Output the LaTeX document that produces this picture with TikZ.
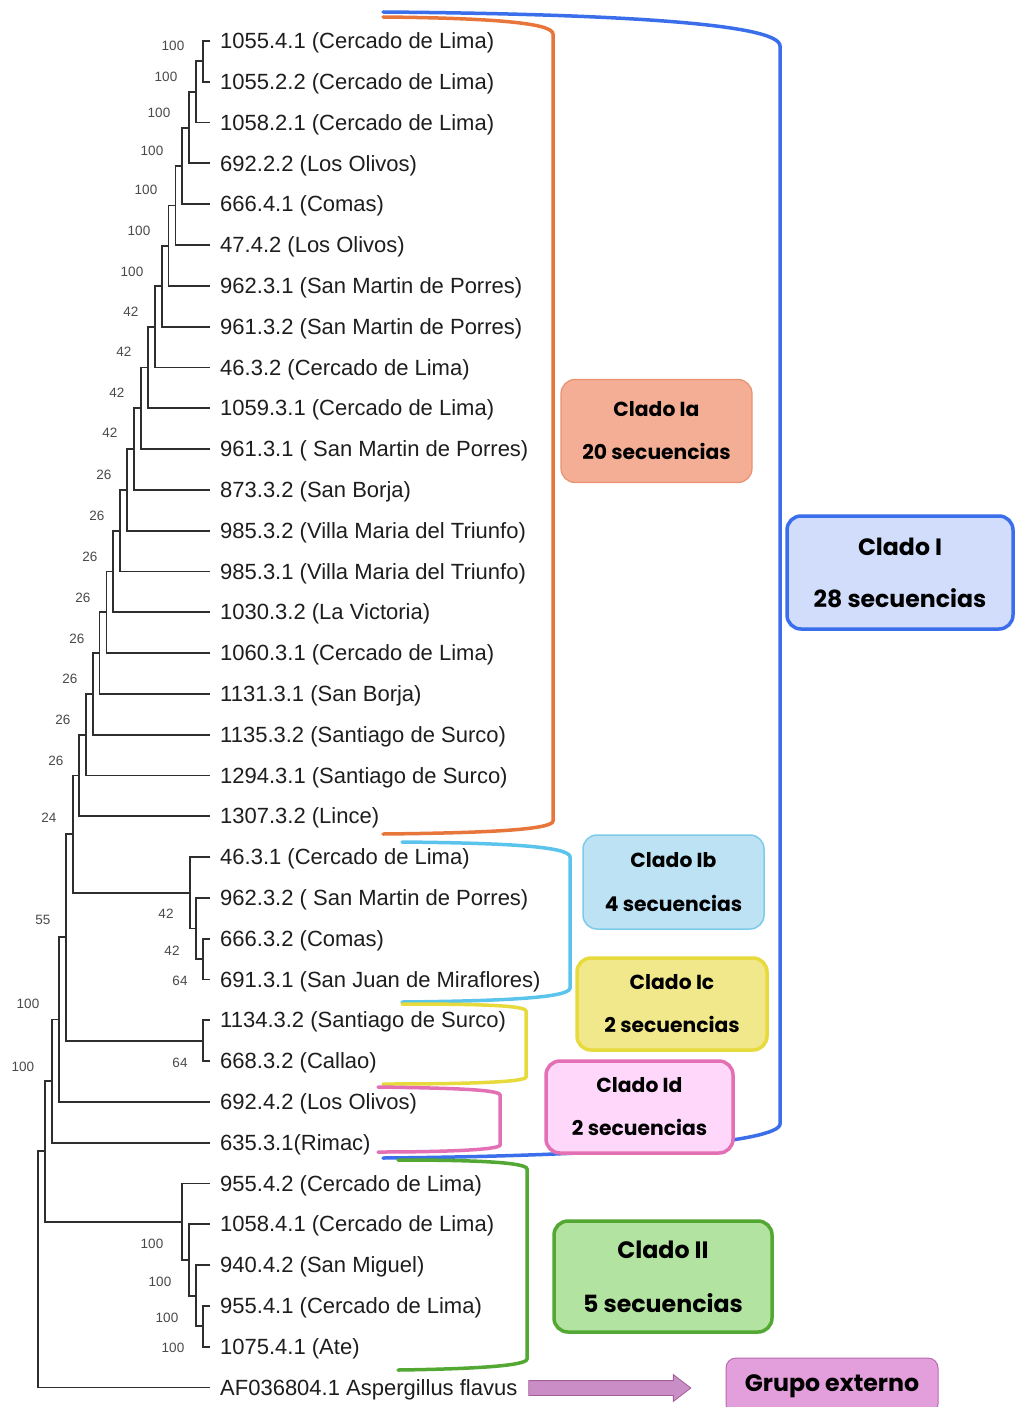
\documentclass[tikz,border=0pt]{standalone}
\usepackage{fontspec}
\setmainfont{Liberation Sans}
\newfontfamily\cladofont{Poppins}
\usetikzlibrary{calc,shapes.arrows}

\definecolor{treeInk}{HTML}{2E2E2E}
\definecolor{leafInk}{HTML}{1E1E1E}
\definecolor{bootInk}{HTML}{4A4A4A}
\definecolor{iaLine}{HTML}{E8763A}
\definecolor{iaBorder}{HTML}{E9926E}
\definecolor{iaFill}{HTML}{F3AE95}
\definecolor{cladoILine}{HTML}{3B6EEA}
\definecolor{cladoIFill}{HTML}{D2DDFB}
\definecolor{ibLine}{HTML}{5BC4EC}
\definecolor{ibBorder}{HTML}{7CCBEB}
\definecolor{ibFill}{HTML}{BDE2F4}
\definecolor{icLine}{HTML}{E6DA3C}
\definecolor{icFill}{HTML}{F0E88A}
\definecolor{idLine}{HTML}{E36FB4}
\definecolor{idFill}{HTML}{FED7FB}
\definecolor{iiLine}{HTML}{52A832}
\definecolor{iiFill}{HTML}{B3E3A1}
\definecolor{outFill}{HTML}{E39FDB}
\definecolor{outLine}{HTML}{B96AB3}
\definecolor{arrowFill}{HTML}{CB8DC5}
\definecolor{arrowLine}{HTML}{A0609A}

% one clade: name, x of the node, upper child, lower child
\newcommand{\clade}[4]{%
  \path ($(#3)!.5!(#4)$) coordinate (mid);
  \coordinate (#1) at (#2,0 |- mid);
  \draw[branch] (#3) -| (#1) |- (#4);
}

\begin{document}
\begin{tikzpicture}[
    x=1pt, y=-1pt,
    branch/.style={draw=treeInk, line width=1.8pt},
    leaf/.style={anchor=west, inner xsep=10pt, inner ysep=0pt, text height=15.5pt, text depth=0pt, text=leafInk, font=\fontsize{22}{26}\selectfont},
    boot/.style={text=bootInk, inner sep=0pt, font=\fontsize{13.5}{16}\selectfont},
    bracket/.style={line width=3.5pt, line cap=round},
    clado/.style={rounded corners=14pt, align=center, inner sep=0pt}
]
\useasboundingbox (0,0) rectangle (1015,1407);
\clip (0,0) rectangle (1015,1407);
\fill[white] (0,0) rectangle (1015,1407);

% Leaves
\foreach \name [count=\i] in {
    {1055.4.1 (Cercado de Lima)}, {1055.2.2 (Cercado de Lima)}, {1058.2.1 (Cercado de Lima)},
    {692.2.2 (Los Olivos)}, {666.4.1 (Comas)}, {47.4.2 (Los Olivos)},
    {962.3.1 (San Martin de Porres)}, {961.3.2 (San Martin de Porres)}, {46.3.2 (Cercado de Lima)},
    {1059.3.1 (Cercado de Lima)}, {961.3.1 ( San Martin de Porres)}, {873.3.2 (San Borja)},
    {985.3.2 (Villa Maria del Triunfo)}, {985.3.1 (Villa Maria del Triunfo)}, {1030.3.2 (La Victoria)},
    {1060.3.1 (Cercado de Lima)}, {1131.3.1 (San Borja)}, {1135.3.2 (Santiago de Surco)},
    {1294.3.1 (Santiago de Surco)}, {1307.3.2 (Lince)}, {46.3.1 (Cercado de Lima)},
    {962.3.2 ( San Martin de Porres)}, {666.3.2 (Comas)}, {691.3.1 (San Juan de Miraflores)},
    {1134.3.2 (Santiago de Surco)}, {668.3.2 (Callao)}, {692.4.2 (Los Olivos)},
    {635.3.1(Rimac)}, {955.4.2 (Cercado de Lima)}, {1058.4.1 (Cercado de Lima)},
    {940.4.2 (San Miguel)}, {955.4.1 (Cercado de Lima)}, {1075.4.1 (Ate)},
    {AF036804.1 Aspergillus flavus}}
  \node[leaf] (l\i) at (210, {41+(\i-1)*40.8}) {\name};

% Clado Ia (ladder)
\clade{n1}{203}{l1.west}{l2.west}
\foreach \i [remember=\i as \j (initially 1), evaluate=\i as \x using 203-6.9*(\i-1), evaluate=\i as \k using int(\i+1)] in {2,...,19}
  {\clade{n\i}{\x}{n\j}{l\k.west}}
% Clado Ib
\clade{b3}{203}{l23.west}{l24.west}
\clade{b2}{196}{l22.west}{b3}
\clade{b1}{190}{l21.west}{b2}
\clade{n20}{73}{n19}{b1}
% Clado Ic
\clade{c1}{203}{l25.west}{l26.west}
\clade{n21}{66}{n20}{c1}
% Clado Id
\clade{n22}{59}{n21}{l27.west}
\clade{n23}{52}{n22}{l28.west}
% Clado II and outgroup
\clade{d4}{203}{l32.west}{l33.west}
\clade{d3}{196}{l31.west}{d4}
\clade{d2}{189}{l30.west}{d3}
\clade{d1}{182}{l29.west}{d2}
\clade{n24}{45}{n23}{d1}
\clade{root}{38}{n24}{l34.west}

% Bootstrap values
\foreach \x/\y/\v [count=\i] in {
    173/46/100, 166/77/100, 159/113/100, 152/151/100, 146/190/100, 139/231/100, 132/272/100,
    131/312/42, 124/352/42, 117/393/42, 110/433/42,
    104/475/26, 97/516/26, 90/557/26, 83/598/26, 77/639/26, 70/679/26, 63/720/26, 56/761/26,
    49/818/24, 43/920/55, 166/914/42, 172/951/42, 180/981/64, 28/1004/100,
    180/1063/64, 23/1067/100, 152/1244/100, 160/1282/100, 167/1318/100, 173/1348/100}
  \node[boot] (bs\i) at (\x,\y) {\v};

% Brackets
\draw[bracket, cladoILine] (383,12) .. controls (620,14) and (780,24) .. (780,46) -- (780,1124)
    .. controls (780,1142) and (620,1156) .. (383,1158);
\draw[bracket, iaLine] (383,17) .. controls (480,18) and (553,22) .. (553,34) -- (553,821)
    .. controls (553,830) and (480,833) .. (383,834);
\draw[bracket, ibLine] (402,842) .. controls (500,843) and (570,846) .. (570,857) -- (570,988)
    .. controls (570,998) and (500,1001) .. (402,1002);
\draw[bracket, icLine] (402,1004) .. controls (470,1004) and (526,1005) .. (526,1011) -- (526,1077)
    .. controls (526,1082) and (470,1084) .. (383,1084);
\draw[bracket, idLine] (378,1087) .. controls (440,1088) and (500,1089) .. (500,1095) -- (500,1145)
    .. controls (500,1150) and (440,1152) .. (378,1152);
\draw[bracket, iiLine] (398,1160) .. controls (470,1160) and (527,1162) .. (527,1169) -- (527,1359)
    .. controls (527,1366) and (470,1369) .. (398,1370);

% Clade boxes
\node[clado, fill=iaFill, draw=iaBorder, line width=1.2pt, minimum width=191pt, minimum height=103pt,
      font=\cladofont\bfseries\fontsize{20.3}{43}\selectfont] (ia) at (656.5,431) {Clado Ia\\20 secuencias};
\node[clado, fill=cladoIFill, draw=cladoILine, line width=3.5pt, minimum width=226pt, minimum height=113pt,
      font=\cladofont\bfseries\fontsize{23.6}{52}\selectfont] (cladoI) at (900,572.5) {Clado I\\28 secuencias};
\node[clado, fill=ibFill, draw=ibBorder, line width=1.5pt, minimum width=181pt, minimum height=94pt,
      font=\cladofont\bfseries\fontsize{20.3}{44}\selectfont] (ib) at (673.5,882) {Clado Ib\\4 secuencias};
\node[clado, fill=icFill, draw=icLine, line width=3.5pt, minimum width=190pt, minimum height=92pt,
      font=\cladofont\bfseries\fontsize{20.3}{43}\selectfont] (ic) at (672,1004) {Clado Ic\\2 secuencias};
\node[clado, fill=idFill, draw=idLine, line width=3.5pt, minimum width=187pt, minimum height=92pt,
      font=\cladofont\bfseries\fontsize{20.3}{43}\selectfont] (id) at (639.5,1107) {Clado Id\\2 secuencias};
\node[clado, fill=iiFill, draw=iiLine, line width=3.5pt, minimum width=218pt, minimum height=111pt,
      font=\cladofont\bfseries\fontsize{23.7}{54}\selectfont] (ii) at (663,1276.5) {Clado II\\5 secuencias};
\node[clado, rounded corners=10pt, fill=outFill, draw=outLine, line width=1pt, minimum width=212pt, minimum height=56pt,
      font=\cladofont\bfseries\fontsize{23.7}{26}\selectfont] (outgroup) at (832,1386) {Grupo externo};

% Arrow to the outgroup
\node[single arrow, draw=arrowLine, fill=arrowFill, line width=0.8pt, minimum height=162pt, inner sep=7pt,
      single arrow head extend=6pt, single arrow tip angle=75] (toOut) at (605,1388) {};
\end{tikzpicture}
\end{document}
